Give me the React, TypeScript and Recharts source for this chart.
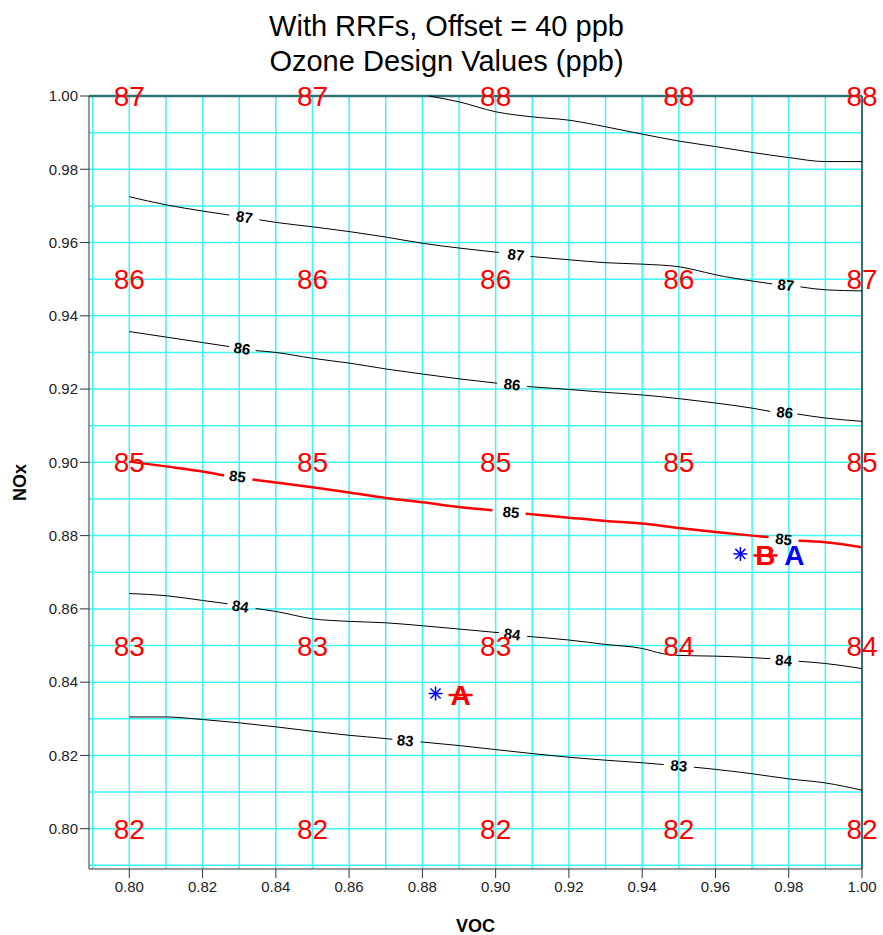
import React from 'react';
import {
  ComposedChart,
  Line,
  Scatter,
  XAxis,
  YAxis,
  CartesianGrid,
  ReferenceLine,
} from 'recharts';

const FONT = '"Liberation Sans", Arial, Helvetica, sans-serif';

// Axis ticks and grid spacing (VOC and NOx fractions)
const xTicks = [0.8, 0.82, 0.84, 0.86, 0.88, 0.9, 0.92, 0.94, 0.96, 0.98, 1.0];
const yTicks = [0.8, 0.82, 0.84, 0.86, 0.88, 0.9, 0.92, 0.94, 0.96, 0.98, 1.0];
const gridValues = [
  0.79, 0.8, 0.81, 0.82, 0.83, 0.84, 0.85, 0.86, 0.87, 0.88, 0.89, 0.9, 0.91,
  0.92, 0.93, 0.94, 0.95, 0.96, 0.97, 0.98, 0.99, 1.0,
];

// Design values printed at the coarse grid nodes
const nodeVoc = [0.8, 0.85, 0.9, 0.95, 1.0];
const nodeNox = [1.0, 0.95, 0.9, 0.85, 0.8];
const nodeValues = [
  [87, 87, 88, 88, 88],
  [86, 86, 86, 86, 87],
  [85, 85, 85, 85, 85],
  [83, 83, 83, 84, 84],
  [82, 82, 82, 82, 82],
];

// Contour lines [VOC, NOx]; null marks the gap where a label sits
const contour88: ([number, number] | null)[] = [
  [0.8818, 1.0], [0.89, 0.9984], [0.9, 0.9957], [0.91, 0.9943], [0.92, 0.9934],
  [0.93, 0.9916], [0.94, 0.9896], [0.95, 0.9877], [0.96, 0.9862], [0.97, 0.9846],
  [0.98, 0.9832], [0.99, 0.9821], [1.0, 0.9821],
];
const contour87: ([number, number] | null)[] = [
  [0.8, 0.9725], [0.81, 0.9703], [0.82, 0.9686], [0.8273, 0.9675], null,
  [0.8355, 0.9662], [0.84, 0.9655], [0.85, 0.9643], [0.86, 0.963], [0.87, 0.9615],
  [0.88, 0.9598], [0.89, 0.9585], [0.9009, 0.9573], null, [0.9095, 0.9562],
  [0.92, 0.9553], [0.93, 0.9545], [0.94, 0.9541], [0.95, 0.9534], [0.9545, 0.9525],
  [0.96, 0.9512], [0.97, 0.9495], [0.9755, 0.9487], null, [0.9832, 0.9479],
  [0.99, 0.9471], [1.0, 0.9468],
];
const contour86: ([number, number] | null)[] = [
  [0.8, 0.9357], [0.81, 0.9342], [0.82, 0.9327], [0.8273, 0.9316], null,
  [0.8345, 0.9305], [0.84, 0.93], [0.85, 0.9284], [0.86, 0.9271], [0.87, 0.9255],
  [0.88, 0.9241], [0.89, 0.9228], [0.9004, 0.9216], null, [0.9086, 0.9207],
  [0.92, 0.9199], [0.93, 0.9191], [0.94, 0.9184], [0.95, 0.9174], [0.96, 0.9162],
  [0.97, 0.9148], [0.975, 0.9139], null, [0.9823, 0.9132], [0.99, 0.9121],
  [1.0, 0.9112],
];
const contour85: ([number, number] | null)[] = [
  [0.8, 0.9002], [0.81, 0.8989], [0.82, 0.8975], [0.8259, 0.8964], null,
  [0.8336, 0.8953], [0.84, 0.8945], [0.85, 0.8932], [0.86, 0.8918], [0.87, 0.8903],
  [0.88, 0.8891], [0.89, 0.8878], [0.8991, 0.8869], null, [0.9082, 0.886],
  [0.92, 0.8849], [0.93, 0.884], [0.94, 0.8833], [0.95, 0.8821], [0.96, 0.881],
  [0.97, 0.88], [0.9745, 0.8796], null, [0.9827, 0.8786], [0.99, 0.8782],
  [1.0, 0.8768],
];
const contour84: ([number, number] | null)[] = [
  [0.8, 0.8642], [0.81, 0.8636], [0.82, 0.8623], [0.8268, 0.8614], null,
  [0.8345, 0.8601], [0.84, 0.8593], [0.85, 0.8573], [0.86, 0.8566], [0.87, 0.8562],
  [0.88, 0.8554], [0.89, 0.8545], [0.9009, 0.8535], null, [0.9086, 0.8525],
  [0.92, 0.8515], [0.93, 0.8503], [0.94, 0.8492], [0.9455, 0.8478], [0.95, 0.8473],
  [0.96, 0.8471], [0.97, 0.8467], [0.975, 0.8464], null, [0.9827, 0.8457],
  [0.99, 0.8451], [1.0, 0.8437],
];
const contour83: ([number, number] | null)[] = [
  [0.8, 0.8305], [0.81, 0.8305], [0.82, 0.8298], [0.83, 0.8289], [0.84, 0.8278],
  [0.85, 0.8266], [0.86, 0.8255], [0.87, 0.8246], [0.8718, 0.8244], null,
  [0.8795, 0.8237], [0.89, 0.8227], [0.9, 0.8216], [0.91, 0.8205], [0.92, 0.8195],
  [0.93, 0.8187], [0.94, 0.818], [0.9459, 0.8175], null, [0.9541, 0.8168],
  [0.96, 0.8162], [0.97, 0.815], [0.98, 0.8136], [0.99, 0.8125], [1.0, 0.8105],
];

// Inline contour label positions [VOC, NOx], one per gap
const labels87: [number, number][] = [[0.8314, 0.9669], [0.9055, 0.9566], [0.9792, 0.9483]];
const labels86: [number, number][] = [[0.8308, 0.931], [0.9045, 0.9212], [0.9789, 0.9135]];
const labels85: [number, number][] = [[0.8295, 0.8961], [0.9042, 0.8863], [0.9786, 0.8789]];
const labels84: [number, number][] = [[0.8303, 0.8606], [0.9045, 0.853], [0.9786, 0.8459]];
const labels83: [number, number][] = [[0.8753, 0.824], [0.95, 0.8171]];

// Scenario points
const scenarioPoints = [
  { x: 0.8836, y: 0.8369, tags: ['A-old'] },
  { x: 0.9668, y: 0.875, tags: ['B-old', 'A'] },
];

type Pt = [number, number] | null;

const toRows = (pts: Pt[]) =>
  pts.map((p, i) =>
    p ? { x: p[0], y: p[1] } : { x: (pts[i - 1] as [number, number])[0], y: null }
  );

// rotation of each label follows the contour across its gap
const labelRows = (pts: Pt[], labs: [number, number][], text: string) => {
  const gaps: number[] = [];
  pts.forEach((p, i) => {
    if (p === null) gaps.push(i);
  });
  return labs.map((l, k) => {
    const g = gaps[k];
    const a = pts[g - 1] as [number, number];
    const b = pts[g + 1] as [number, number];
    const angle = (-Math.atan2(b[1] - a[1], b[0] - a[0]) * 180) / Math.PI;
    return { x: l[0], y: l[1], text, angle };
  });
};

const nodeRows = nodeNox.flatMap((ny, r) =>
  nodeVoc.map((vx, c) => ({ x: vx, y: ny, v: nodeValues[r][c] }))
);

const contourSets = [
  { value: '88', pts: contour88, labs: [] as [number, number][] },
  { value: '87', pts: contour87, labs: labels87 },
  { value: '86', pts: contour86, labs: labels86 },
  { value: '85', pts: contour85, labs: labels85 },
  { value: '84', pts: contour84, labs: labels84 },
  { value: '83', pts: contour83, labs: labels83 },
];

const allLabelRows = contourSets.flatMap((c) => labelRows(c.pts, c.labs, c.value));

const NodeLabel = (props: any) => {
  const { cx, cy, payload } = props;
  return (
    <text
      x={cx}
      y={cy}
      dy={10}
      textAnchor="middle"
      fontFamily={FONT}
      fontSize={28}
      fill="#ff0000"
    >
      {payload.v}
    </text>
  );
};

const ContourLabel = (props: any) => {
  const { cx, cy, payload } = props;
  return (
    <text
      x={cx}
      y={cy}
      dy={5}
      textAnchor="middle"
      fontFamily={FONT}
      fontSize={15}
      fontWeight="bold"
      fill="#000"
      transform={`rotate(${payload.angle} ${cx} ${cy})`}
    >
      {payload.text}
    </text>
  );
};

const ScenarioMark = (props: any) => {
  const { cx, cy, payload } = props;
  const r = 7;
  const d = r * 0.72;
  return (
    <g>
      <g stroke="#0000ff" strokeWidth={1.5}>
        <line x1={cx} y1={cy - r} x2={cx} y2={cy + r} />
        <line x1={cx - r} y1={cy} x2={cx + r} y2={cy} />
        <line x1={cx - d} y1={cy - d} x2={cx + d} y2={cy + d} />
        <line x1={cx - d} y1={cy + d} x2={cx + d} y2={cy - d} />
      </g>
      {payload.tags.map((t: string, i: number) => {
        const old = t.endsWith('-old');
        const letter = old ? t.slice(0, 1) : t;
        const tx = cx + 25 + i * 29;
        return (
          <g key={i}>
            <text
              x={tx}
              y={cy}
              dy={11}
              textAnchor="middle"
              fontFamily={FONT}
              fontSize={28}
              fontWeight="bold"
              fill={old ? '#ff0000' : '#0000ff'}
            >
              {letter}
            </text>
            {old && (
              <line
                x1={tx - 12}
                y1={cy + 1.5}
                x2={tx + 12}
                y2={cy + 1.5}
                stroke="#ff0000"
                strokeWidth={2.5}
              />
            )}
          </g>
        );
      })}
    </g>
  );
};

export default function App() {
  return (
    <div
      style={{
        position: 'absolute',
        left: 0,
        top: 0,
        width: 883,
        height: 935,
        background: '#fff',
        fontFamily: FONT,
      }}
    >
      <div
        style={{
          position: 'absolute',
          left: 5,
          top: 9,
          width: 883,
          textAlign: 'center',
          fontSize: 29,
          lineHeight: '35px',
          color: '#000',
          zIndex: 2,
        }}
      >
        <div>With RRFs, Offset = 40 ppb</div>
        <div>Ozone Design Values (ppb)</div>
      </div>
      <ComposedChart
        width={883}
        height={935}
        margin={{ top: 96, right: 21, bottom: 0, left: 0 }}
        style={{ fontFamily: FONT }}
      >
        <CartesianGrid
          stroke="#3ff5f5"
          strokeWidth={1.5}
          horizontalValues={gridValues}
          verticalValues={gridValues}
        />
        <XAxis
          type="number"
          dataKey="x"
          domain={[0.789, 1.0]}
          ticks={xTicks}
          tickFormatter={(v: number) => v.toFixed(2)}
          tickSize={9}
          tickMargin={3}
          height={66}
          stroke="#333"
          tick={{ fill: '#222', fontSize: 15, fontFamily: FONT }}
          label={{
            content: ({ viewBox }: any) => (
              <text
                x={viewBox.x + viewBox.width / 2}
                y={viewBox.y + 63}
                textAnchor="middle"
                fontFamily={FONT}
                fontSize={18}
                fontWeight="bold"
                fill="#000"
              >
                VOC
              </text>
            ),
          }}
        />
        <YAxis
          type="number"
          dataKey="y"
          domain={[0.789, 1.0]}
          ticks={yTicks}
          tickFormatter={(v: number) => v.toFixed(2)}
          tickSize={9}
          tickMargin={2}
          width={89}
          stroke="#333"
          tick={{ fill: '#222', fontSize: 15, fontFamily: FONT }}
          label={{
            content: ({ viewBox }: any) => {
              const cx = viewBox.x + 20;
              const cy = viewBox.y + viewBox.height / 2;
              return (
                <text
                  x={cx}
                  y={cy}
                  dy={6}
                  textAnchor="middle"
                  fontFamily={FONT}
                  fontSize={18}
                  fontWeight="bold"
                  fill="#000"
                  transform={`rotate(-90 ${cx} ${cy})`}
                >
                  NOx
                </text>
              );
            },
          }}
        />
        <ReferenceLine y={1.0} stroke="#2f7272" strokeWidth={2.5} />
        <ReferenceLine x={1.0} stroke="#2f7272" strokeWidth={2} />
        {contourSets.map((c) => (
          <Line
            key={c.value}
            data={toRows(c.pts)}
            dataKey="y"
            type="monotone"
            stroke={c.value === '85' ? '#ff0000' : '#000'}
            strokeWidth={c.value === '85' ? 2.5 : 1}
            dot={false}
            activeDot={false}
            connectNulls={false}
            isAnimationActive={false}
          />
        ))}
        <Scatter data={allLabelRows} shape={ContourLabel} isAnimationActive={false} />
        <Scatter data={nodeRows} shape={NodeLabel} isAnimationActive={false} />
        <Scatter data={scenarioPoints} shape={ScenarioMark} isAnimationActive={false} />
      </ComposedChart>
    </div>
  );
}
